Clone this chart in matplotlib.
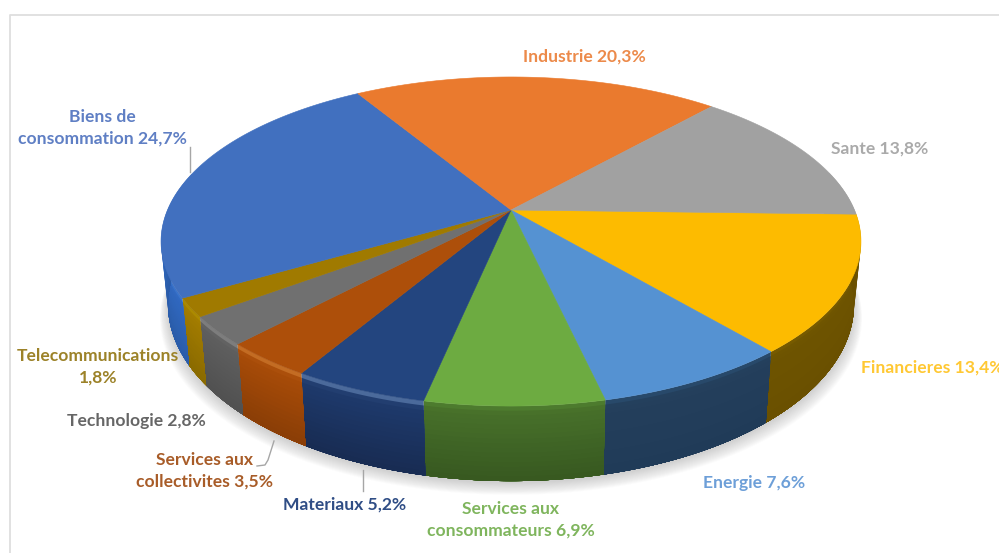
import numpy as np
import matplotlib
matplotlib.use("Agg")
import matplotlib.pyplot as plt
from matplotlib.colors import to_rgb

# --- data (clockwise from the Sante / Financieres boundary) ---
labels = ["Financieres 13,4%", "Energie 7,6%", "Services aux\nconsommateurs 6,9%", "Materiaux 5,2%",
          "Services aux\ncollectivites 3,5%", "Technologie 2,8%", "Telecommunications\n1,8%",
          "Biens de\nconsommation 24,7%", "Industrie 20,3%", "Sante 13,8%"]
values = [13.4, 7.6, 6.9, 5.2, 3.5, 2.8, 1.8, 24.7, 20.3, 13.8]

# --- styles ---
top_colors = ["#fdbb00", "#5592d2", "#6dab41", "#23457f", "#ad4f0a", "#707070", "#a07a00", "#4170bf", "#ea7a2e", "#a1a1a1"]
rim_colors = ["#7a5d00", "#2a4d70", "#4f8030", "#5f80b0", "#d07a30", "#8a8a8a", "#b09000", "#3f7ad0", "#ea7a2e", "#a1a1a1"]
side_hi = ["#6e5400", "#243f5c", "#47702a", "#1e3a6c", "#a84c08", "#5f5f5f", "#a27c00", "#3068c0", "#ea7a2e", "#a1a1a1"]
side_lo = ["#6a5000", "#203b58", "#375820", "#182c52", "#8a3e06", "#505050", "#8a6a00", "#2a5ca8", "#ea7a2e", "#a1a1a1"]
text_colors = ["#ffc833", "#6d9fd8", "#7fb55d", "#2f4d85", "#a85c28", "#666666", "#9c8228", "#5f7fc4", "#ec8a4a", "#aaaaaa"]
label_xy = [(932, 368), (754, 483), (511, 520), (345, 505), (204, 471), (136, 421), (98, 367), (102, 128), (584, 57), (880, 149)]

W, H = 999, 553
CX, CY = 511.0, 210.0
A, B, K = 343.5, 158.5, 0.1915
D0, XS = 60.7, 0.98
START = -1.5


def project(theta_deg):
    th = np.radians(theta_deg)
    X, Y = np.cos(th), np.sin(th)
    w = 1 + K * Y
    return CX + A * X / w, CY - B * Y / w, w


def lower(theta_deg, frac=1.0):
    px, py, w = project(theta_deg)
    return CX + (px - CX) * (1 - (1 - XS) * frac), py + frac * D0 / w


def mix(c1, c2, t):
    return tuple((1 - t) * a + t * b for a, b in zip(to_rgb(c1), to_rgb(c2)))


fig = plt.figure(figsize=(W / 100, H / 100), dpi=100)
ax = fig.add_axes([0, 0, 1, 1])
ax.set_xlim(0, W)
ax.set_ylim(H, 0)
ax.axis("off")

# frame of the pasted picture
ax.plot([10, 10, W], [H, 14.5, 14.5], color="#dedede", lw=1.3, zorder=1)

# soft shadow
full = np.linspace(0, 360, 361)
bx, by = lower(full)
for i in range(14):
    grow = 1 + 0.0018 * i
    ax.fill(CX + (bx - CX) * grow, by + 2 + 0.9 * i, color="#707070", alpha=0.022, lw=0, zorder=2)

# slice angles, clockwise
fractions = np.array(values) / np.sum(values)
edges = START - 360 * np.concatenate([[0], np.cumsum(fractions)])

# side wall: each layer runs from its own level down to the base
n_layers = 16
for i in range(len(values)):
    th = np.linspace(edges[i], edges[i + 1], 90)
    keep = np.sin(np.radians(th)) < 0.25
    if keep.sum() < 2:
        continue
    th = th[keep]
    x1, y1 = lower(th, 1.0)
    for j in range(n_layers):
        f0 = j / n_layers
        x0, y0 = lower(th, f0)
        fm = (j + 0.5) / n_layers
        if fm < 0.1:
            col = mix(rim_colors[i], side_hi[i], fm / 0.1)
        else:
            col = mix(side_hi[i], side_lo[i], (fm - 0.1) / 0.9)
        ax.fill(np.r_[x0, x1[::-1]], np.r_[y0, y1[::-1]], color=col, lw=0, zorder=3 + 0.01 * i + 0.0001 * j)

# top face
for i in range(len(values)):
    th = np.linspace(edges[i], edges[i + 1], 160)
    px, py, _ = project(th)
    ax.fill(np.r_[CX, px], np.r_[CY, py], color=top_colors[i], lw=0.4, zorder=5)

# leader lines
leader_color = "#a6a6a6"
ax.plot([190, 190], [147, 172], color=leader_color, lw=1.0, zorder=6)
ax.plot([274, 268, 265, 257], [441, 460, 465, 466], color=leader_color, lw=1.0, zorder=6)
ax.plot([363, 363], [470, 491], color=leader_color, lw=1.0, zorder=6)

# labels
for text, (x, y), c in zip(labels, label_xy, text_colors):
    ax.text(x, y, text, color=c, ha="center", va="center", family="Lato", weight="bold",
            fontsize=12.6, linespacing=1.42, zorder=7)

fig.savefig("out.png", dpi=100, facecolor="white")
